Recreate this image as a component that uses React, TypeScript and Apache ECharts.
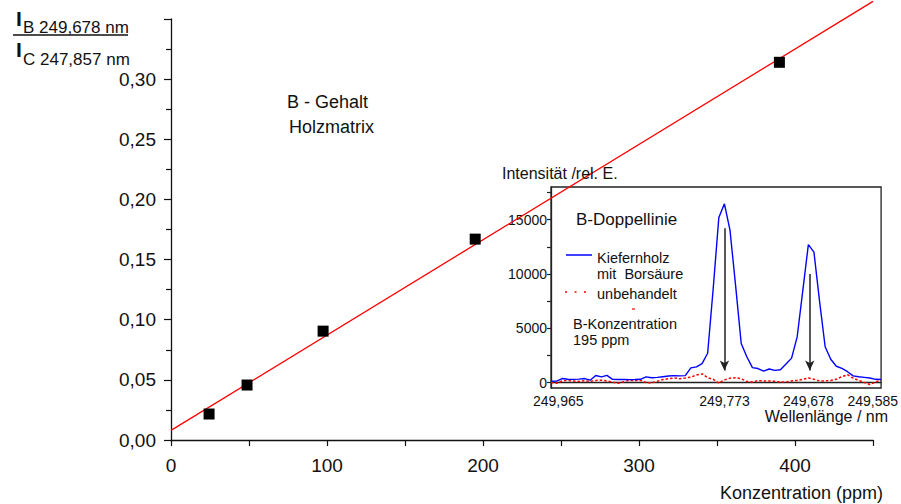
import React, { useEffect, useRef } from "react";
import * as echarts from "echarts";

// Main chart: B content in wood matrix
const concentrations = [24.4, 48.75, 97.5, 195, 390];
const intensityRatios = [0.0216, 0.0457, 0.0905, 0.167, 0.314];
const mainYTicks = [0, 0.05, 0.1, 0.15, 0.2, 0.25, 0.3];

// Inset: spectrum (channel index -> intensity)
const spectrumBoric = [
  120, 130, 370, 300, 290, 320, 370, 220, 650, 520,
  660, 300, 280, 280, 270, 280, 300, 520, 440, 480,
  540, 600, 640, 620, 640, 1350, 1450, 1750, 2700, 8700,
  15200, 16450, 14000, 8900, 3600, 2380, 1380, 1290, 1060, 1250,
  1120, 1180, 1700, 2250, 4200, 8440, 12700, 12000, 7500, 3300,
  2150, 1500, 1300, 1000, 620, 530, 480, 420, 300, 280,
];
const spectrumUntreated = [
  0, -60, 150, 200, 150, 100, 180, 100, 200, 220,
  150, 40, -60, 80, 200, 180, 200, 0, -30, 120,
  280, 350, 430, 350, 420, 500, 700, 800, 450, 300,
  -50, 250, 400, 450, 350, 100, 60, 180, 150, 150,
  120, 50, 60, 150, 200, 300, 420, 300, 150, 150,
  200, 300, 550, 720, 400, 200, 0, -180, 50, 250,
];
const wavelengthLabels = ["249,965", "249,773", "249,678", "249,585"];
const wavelengthChannels = [1.3, 31, 46, 57.5];
const insetYLabels = [0, 5000, 10000, 15000];
const insetYTicks = [0, 2500, 5000, 7500, 10000, 12500, 15000, 17500];
const arrowChannels = [31, 46.25];
const arrowTops = [14200, 10000];
const arrowBottom = 1100;

const FONT = "'Liberation Sans', Arial, Helvetica, sans-serif";

function regression(xs: number[], ys: number[]) {
  const n = xs.length;
  const mx = xs.reduce((a, b) => a + b, 0) / n;
  const my = ys.reduce((a, b) => a + b, 0) / n;
  let sxx = 0, sxy = 0;
  for (let i = 0; i < n; i++) {
    sxx += (xs[i] - mx) ** 2;
    sxy += (xs[i] - mx) * (ys[i] - my);
  }
  const slope = sxy / sxx;
  return { slope, intercept: my - slope * mx };
}

export default function App() {
  const ref = useRef<HTMLDivElement>(null);
  useEffect(() => {
    if (!ref.current) return;
    const chart = echarts.init(ref.current, undefined, { renderer: "svg" });
    const fit = regression(concentrations, intensityRatios);
    const xMax = 450;
    const txt = (text: string, x: number, y: number, size: number, align = "left", extra: any = {}) => ({
      type: "text",
      x,
      y,
      z: 100,
      style: {
        text,
        fill: "#111",
        font: `${extra.weight || "normal"} ${size}px ${FONT}`,
        textAlign: align,
        textVerticalAlign: "middle",
      },
    });
    const option: any = {
      animation: false,
      backgroundColor: "#fff",
      textStyle: { fontFamily: FONT },
      grid: [
        { left: 171, right: 28, top: 19, bottom: 64 },
        { left: 551, right: 17, top: 187, bottom: 116, show: true, borderColor: "#222", borderWidth: 1.3, backgroundColor: "transparent" },
      ],
      xAxis: [
        {
          type: "value",
          gridIndex: 0,
          min: 0,
          max: xMax,
          interval: 50,
          splitLine: { show: false },
          axisLine: { lineStyle: { color: "#111", width: 1.3 } },
          axisTick: { length: 6, lineStyle: { color: "#111", width: 1.2 } },
          axisLabel: {
            color: "#111",
            fontSize: 19,
            fontFamily: FONT,
            margin: 16,
            formatter: (v: number) => (v % 100 === 0 ? String(v) : ""),
          },
        },
        {
          type: "value",
          gridIndex: 1,
          min: 0,
          max: spectrumBoric.length - 1,
          splitLine: { show: false },
          axisLine: { lineStyle: { color: "#222", width: 1.3 } },
          axisTick: { show: false },
          axisLabel: {
            color: "#111",
            fontSize: 14,
            fontFamily: FONT,
            margin: 6,
            customValues: wavelengthChannels,
            formatter: (v: number) => {
              const i = wavelengthChannels.findIndex((c) => Math.abs(c - v) < 1e-6);
              return i >= 0 ? wavelengthLabels[i] : "";
            },
          },
        },
      ],
      yAxis: [
        {
          type: "value",
          gridIndex: 0,
          min: 0,
          max: 0.35,
          interval: 0.05,
          splitLine: { show: false },
          axisLine: { show: true, lineStyle: { color: "#111", width: 1.3 } },
          axisTick: { show: true, length: 7, lineStyle: { color: "#111", width: 1.2 } },
          minorTick: { show: true, splitNumber: 2, length: 5, lineStyle: { color: "#111", width: 1.2 } },
          axisLabel: {
            color: "#111",
            fontSize: 19,
            fontFamily: FONT,
            margin: 15,
            formatter: (v: number) => {
              const t = mainYTicks.find((m) => Math.abs(m - v) < 1e-6);
              return t === undefined ? "" : t.toFixed(2).replace(".", ",");
            },
          },
        },
        {
          type: "value",
          gridIndex: 1,
          min: -500,
          max: 18000,
          splitLine: { show: false },
          axisLine: { show: true, lineStyle: { color: "#222", width: 1.3 } },
          axisTick: { show: true, length: 4, customValues: insetYTicks, lineStyle: { color: "#222", width: 1.2 } },
          axisLabel: {
            color: "#111",
            fontSize: 14,
            fontFamily: FONT,
            margin: 4,
            customValues: insetYLabels,
            formatter: (v: number) => String(Math.round(v)),
          },
        },
      ],
      series: [
        {
          type: "line",
          xAxisIndex: 0,
          yAxisIndex: 0,
          data: [
            [0, fit.intercept],
            [xMax, fit.intercept + fit.slope * xMax],
          ],
          symbol: "none",
          clip: false,
          lineStyle: { color: "#ff0000", width: 1.3 },
          z: 3,
        },
        {
          type: "scatter",
          xAxisIndex: 0,
          yAxisIndex: 0,
          data: concentrations.map((c, i) => [c, intensityRatios[i]]),
          symbol: "rect",
          symbolSize: 11,
          itemStyle: { color: "#000", opacity: 1 },
          z: 4,
        },
        {
          type: "line",
          xAxisIndex: 1,
          yAxisIndex: 1,
          data: spectrumBoric.map((v, i) => [i, v]),
          symbol: "none",
          lineStyle: { color: "#0000ff", width: 1.4 },
          z: 5,
          markLine: {
            silent: true,
            symbol: ["none", "arrow"],
            symbolSize: [7, 10],
            label: { show: false },
            lineStyle: { color: "#222", width: 1.5, type: "solid" },
            data: arrowChannels.map((c, i) => [
              { coord: [c, arrowTops[i]] },
              { coord: [c, arrowBottom] },
            ]),
          },
        },
        {
          type: "line",
          xAxisIndex: 1,
          yAxisIndex: 1,
          data: spectrumUntreated.map((v, i) => [i, v]),
          symbol: "none",
          lineStyle: { color: "#ff0000", width: 1.5, type: [2.5, 2] },
          z: 4,
        },
      ],
      graphic: [
        // Y-axis label (ratio)
        txt("I", 16, 18, 21, "left", { weight: "bold" }),
        txt("B 249,678 nm", 23, 27, 17),
        { type: "line", z: 100, shape: { x1: 13, y1: 35, x2: 128, y2: 35 }, style: { stroke: "#111", lineWidth: 1.5 } },
        txt("I", 16, 49, 21, "left", { weight: "bold" }),
        txt("C 247,857 nm", 23, 59, 17),
        txt("B - Gehalt", 287, 102, 18),
        txt("Holzmatrix", 289, 127, 18),
        txt("Konzentration (ppm)", 883, 493, 18, "right"),
        // Inset texts
        txt("Intensität /rel. E.", 502, 173, 16),
        txt("Wellenlänge / nm", 888, 416, 16, "right"),
        txt("B-Doppellinie", 576, 219, 17),
        { type: "line", z: 100, shape: { x1: 566, y1: 255, x2: 592, y2: 255 }, style: { stroke: "#0000ff", lineWidth: 1.5 } },
        txt("Kiefernholz", 597, 258, 14.5),
        txt("mit  Borsäure", 597, 274, 14.5),
        { type: "line", z: 100, shape: { x1: 565, y1: 292, x2: 588, y2: 292 }, style: { stroke: "#ff0000", lineWidth: 1.5, lineDash: [2, 7.5] } },
        txt("unbehandelt", 597, 294, 14.5),
        { type: "line", z: 100, shape: { x1: 632, y1: 309, x2: 635, y2: 309 }, style: { stroke: "#ff0000", lineWidth: 1.2 } },
        txt("B-Konzentration", 573, 324, 14.5),
        txt("195 ppm", 573, 340, 14.5),
      ],
    };
    chart.setOption(option);
    return () => chart.dispose();
  }, []);
  return (
    <div
      ref={ref}
      style={{ position: "fixed", left: 0, top: 0, width: 901, height: 504, background: "#fff" }}
    />
  );
}
